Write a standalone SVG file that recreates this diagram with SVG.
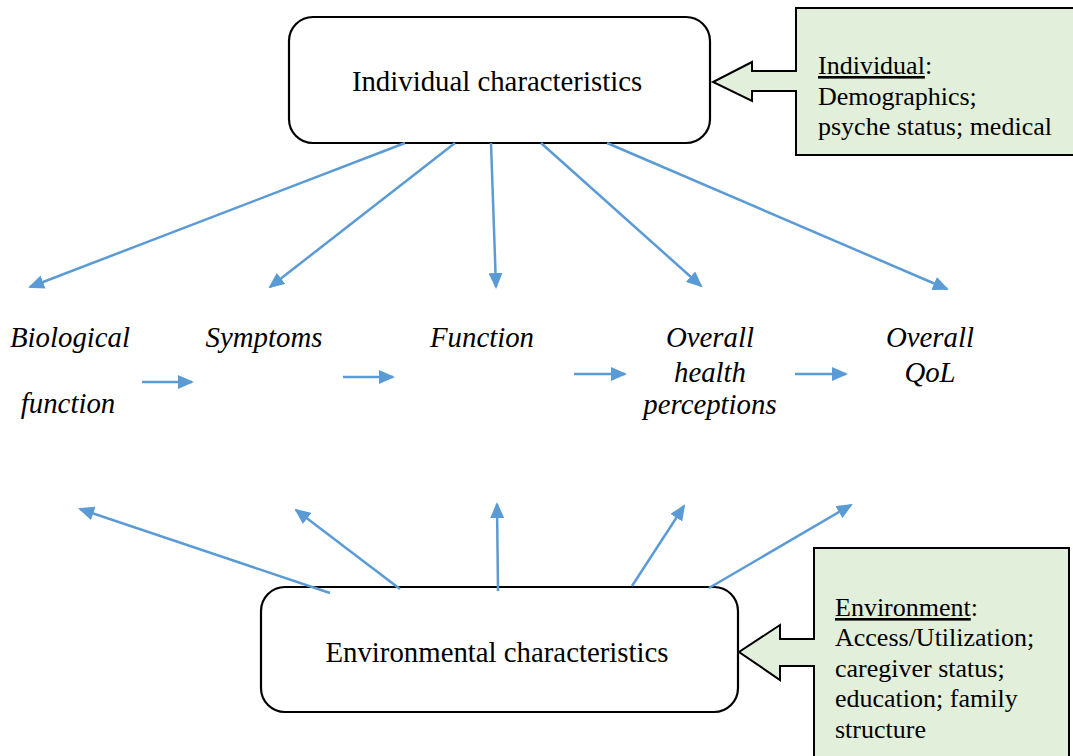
<svg xmlns="http://www.w3.org/2000/svg" width="1073" height="756" viewBox="0 0 1073 756">
<style>
.box{fill:#fff;stroke:#000;stroke-width:2.2}
.call{fill:#e2efda;stroke:#000;stroke-width:2}
.t{font-family:"Liberation Serif","Times New Roman",serif;font-size:28.8px;fill:#000}
.c{font-family:"Liberation Serif","Times New Roman",serif;font-size:26px;fill:#000}
.i{font-family:"Liberation Serif","Times New Roman",serif;font-size:28.8px;font-style:italic;fill:#000;text-anchor:middle}
.a{stroke:#5b9bd5;stroke-width:2.5;fill:none;marker-end:url(#ah)}
</style>
<defs>
<marker id="ah" viewBox="0 0 16 14" refX="14" refY="7" markerWidth="16" markerHeight="14" markerUnits="userSpaceOnUse" orient="auto">
<path d="M0,0 L16,7 L0,14 Z" fill="#5b9bd5"/>
</marker>
</defs>
<rect width="1073" height="756" fill="#fff"/>
<g id="individual">
<rect class="box" x="289" y="17" width="421" height="126" rx="24"/>
<text class="t" x="497" y="91" text-anchor="middle">Individual characteristics</text>
</g>
<g id="individual-note">
<path class="call" d="M796,8 H1082 V155 H796 V91 H752 V101 L713,82 L752,62 V71 H796 Z"/>
<text class="c" x="818" y="74"><tspan text-decoration="underline">Individual</tspan>:</text>
<text class="c" x="818" y="105">Demographics;</text>
<text class="c" x="818" y="135">psyche status; medical</text>
</g>
<g id="environmental">
<rect class="box" x="261" y="587" width="477" height="125" rx="24"/>
<text class="t" x="497" y="662" text-anchor="middle">Environmental characteristics</text>
</g>
<g id="environment-note">
<path class="call" d="M814,548 H1069 V760 H814 V666 H780 V680 L739,652 L780,625 V639 H814 Z"/>
<text class="c" x="835" y="616"><tspan text-decoration="underline">Environment</tspan>:</text>
<text class="c" x="835" y="646">Access/Utilization;</text>
<text class="c" x="835" y="677">caregiver status;</text>
<text class="c" x="835" y="707">education; family</text>
<text class="c" x="835" y="738">structure</text>
</g>
<g id="biological">
<text class="i" x="70" y="347">Biological</text>
<text class="i" x="68" y="413">function</text>
</g>
<g id="symptoms"><text class="i" x="264" y="347">Symptoms</text></g>
<g id="function"><text class="i" x="482" y="347">Function</text></g>
<g id="health">
<text class="i" x="710" y="347">Overall</text>
<text class="i" x="710" y="382">health</text>
<text class="i" x="710" y="414">perceptions</text>
</g>
<g id="qol">
<text class="i" x="930" y="347">Overall</text>
<text class="i" x="930" y="382">QoL</text>
</g>
<g id="connectors">
<line class="a" x1="405" y1="143" x2="30" y2="287"/>
<line class="a" x1="455" y1="143" x2="270" y2="287"/>
<line class="a" x1="491" y1="143" x2="496" y2="287"/>
<line class="a" x1="541" y1="143" x2="701" y2="286"/>
<line class="a" x1="607" y1="143" x2="947" y2="289"/>
<line class="a" x1="142" y1="382" x2="192" y2="382"/>
<line class="a" x1="343" y1="377" x2="393" y2="377"/>
<line class="a" x1="574" y1="374" x2="625" y2="374"/>
<line class="a" x1="795" y1="374" x2="846" y2="374"/>
<line class="a" x1="330" y1="593" x2="80" y2="509"/>
<line class="a" x1="400" y1="589" x2="296" y2="510"/>
<line class="a" x1="498" y1="591" x2="497" y2="504"/>
<line class="a" x1="632" y1="586" x2="684" y2="506"/>
<line class="a" x1="709" y1="588" x2="851" y2="505"/>
</g>
</svg>
